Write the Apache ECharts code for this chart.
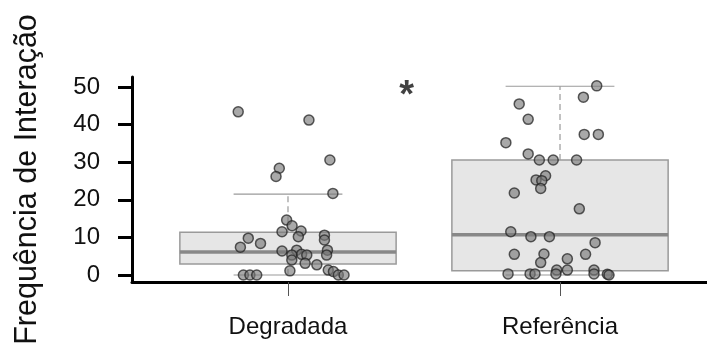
<!DOCTYPE html>
<html>
<head>
<meta charset="utf-8">
<script src="https://cdn.jsdelivr.net/npm/echarts@6/dist/echarts.min.js"></script>
<style>
  html, body { margin: 0; padding: 0; background: #fff; }
  #chart { width: 707px; height: 349px; }
</style>
</head>
<body>
<div id="chart"></div>
<script>
// ---- data ----
const categories = ['Degradada', 'Referência'];
const yTicks = [0, 10, 20, 30, 40, 50];
const yTitle = 'Frequência de Interação';

// boxplot statistics per category
const boxLow = [0, 0];
const boxQ1 = [2.9, 1.1];
const boxMedian = [6.1, 10.7];
const boxQ3 = [11.4, 30.6];
const boxHigh = [21.5, 50.2];

// jittered raw observations (jitter offsets in category units)
const degradadaValues = [43.4, 41.2, 30.6, 28.4, 26.2, 21.7, 14.6, 13.1, 11.5, 11.7, 10.2, 9.8, 8.4, 7.4, 10.6, 9.3, 6.4, 6.6, 5.5, 5.3, 5.3, 6.6, 5.3, 4.0, 3.1, 2.7, 1.1, 0, 0, 0, 1.3, 0.9, 0, 0];
const degradadaJitter = [-0.183, 0.077, 0.154, -0.032, -0.044, 0.165, -0.005, 0.015, -0.022, 0.048, 0.038, -0.146, -0.101, -0.175, 0.134, 0.134, -0.022, 0.032, 0.050, 0.069, 0.014, 0.145, 0.142, 0.014, 0.063, 0.106, 0.007, -0.164, -0.140, -0.115, 0.148, 0.167, 0.185, 0.206];

const referenciaValues = [50.3, 47.3, 45.5, 41.4, 37.4, 37.4, 35.2, 32.2, 30.6, 30.6, 30.6, 26.4, 25.3, 25.1, 23.0, 21.8, 17.6, 11.5, 10.2, 10.2, 8.6, 5.5, 5.6, 3.3, 5.5, 4.3, 1.3, 1.3, 0.3, 0.3, 0.3, 0.3, 1.3, 0.3, 0.2, 0];
const referenciaJitter = [0.135, 0.086, -0.150, -0.117, 0.089, 0.141, -0.199, -0.117, -0.076, -0.025, 0.061, -0.053, -0.088, -0.067, -0.071, -0.168, 0.071, -0.181, -0.107, -0.039, 0.129, -0.168, -0.059, -0.071, 0.094, 0.027, 0.027, -0.012, -0.191, -0.110, -0.092, -0.015, 0.125, 0.125, 0.174, 0.180];

// significance annotation
const sigLabel = ['*'];
const sigPos = [[1.436, 50]];

// ---- build ----
const catPos = categories.map((c, i) => i + 1);
const boxData = categories.map((c, i) => [catPos[i], boxLow[i], boxQ1[i], boxMedian[i], boxQ3[i], boxHigh[i]]);
const pts = [];
degradadaValues.forEach((v, i) => pts.push([catPos[0] + degradadaJitter[i], v]));
referenciaValues.forEach((v, i) => pts.push([catPos[1] + referenciaJitter[i], v]));

const BOX_W = 0.795, CAP_W = 0.40;
const gray = '#9a9a9a';

function renderBox(params, api) {
  const x = api.value(0);
  const lo = api.value(1), q1 = api.value(2), med = api.value(3), q3 = api.value(4), hi = api.value(5);
  const halfW = api.size([BOX_W, 0])[0] / 2;
  const capHalf = api.size([CAP_W, 0])[0] / 2;
  const pLo = api.coord([x, lo]), pQ1 = api.coord([x, q1]), pMed = api.coord([x, med]),
        pQ3 = api.coord([x, q3]), pHi = api.coord([x, hi]);
  const cx = pMed[0];
  return {
    type: 'group',
    children: [
      { type: 'line', shape: { x1: cx, y1: pQ3[1], x2: cx, y2: pHi[1] },
        style: { stroke: gray, lineWidth: 1.2, lineDash: [6, 4] } },
      { type: 'line', shape: { x1: cx, y1: pLo[1], x2: cx, y2: pQ1[1] },
        style: { stroke: gray, lineWidth: 1.2, lineDash: [6, 4] } },
      { type: 'line', shape: { x1: cx - capHalf, y1: pHi[1], x2: cx + capHalf, y2: pHi[1] },
        style: { stroke: gray, lineWidth: 1.2 } },
      { type: 'line', shape: { x1: cx - capHalf, y1: pLo[1], x2: cx + capHalf, y2: pLo[1] },
        style: { stroke: gray, lineWidth: 1.2 } },
      { type: 'rect', shape: { x: cx - halfW, y: pQ3[1], width: 2 * halfW, height: pQ1[1] - pQ3[1] },
        style: { fill: '#e6e6e6', stroke: gray, lineWidth: 1.5 } },
      { type: 'line', shape: { x1: cx - halfW, y1: pMed[1], x2: cx + halfW, y2: pMed[1] },
        style: { stroke: '#888888', lineWidth: 3.5 } }
    ]
  };
}

const chart = echarts.init(document.getElementById('chart'), null, { renderer: 'canvas' });
const FONT = 'Liberation Sans, Arial, sans-serif';
chart.setOption({
  animation: false,
  backgroundColor: '#ffffff',
  grid: { left: 132, right: 0, top: 77, bottom: 67, containLabel: false },
  xAxis: {
    type: 'value',
    min: 0.4265, max: 2.5404,
    splitLine: { show: false },
    axisLine: { show: true, onZero: false, lineStyle: { color: '#000', width: 3 } },
    axisTick: { show: true, customValues: catPos, length: 14, lineStyle: { color: '#555', width: 1 } },
    axisLabel: {
      show: true, customValues: catPos, margin: 33,
      formatter: v => categories[Math.round(v) - 1] || '',
      fontFamily: FONT, fontSize: 24, color: '#111'
    }
  },
  yAxis: {
    type: 'value',
    min: -1.86, max: 52.66,
    name: yTitle,
    nameLocation: 'middle',
    nameGap: 89,
    nameRotate: 90,
    nameTextStyle: { fontFamily: FONT, fontSize: 30.5, color: '#111' },
    splitLine: { show: false },
    axisLine: { show: true, onZero: false, lineStyle: { color: '#000', width: 3 } },
    axisTick: { show: true, customValues: yTicks, length: 14, lineStyle: { color: '#000', width: 3 } },
    axisLabel: { show: true, customValues: yTicks, margin: 32, fontFamily: FONT, fontSize: 24, color: '#111' }
  },
  series: [
    {
      type: 'custom',
      renderItem: renderBox,
      data: boxData,
      encode: { x: 0, y: [1, 2, 3, 4, 5] },
      z: 1,
      silent: true
    },
    {
      type: 'scatter',
      data: pts,
      symbol: 'circle',
      symbolSize: 10,
      itemStyle: { color: 'rgba(120,120,120,0.8)', borderColor: 'rgba(30,30,30,0.9)', borderWidth: 1.5 },
      z: 3,
      silent: true
    },
    {
      type: 'scatter',
      data: sigPos,
      symbolSize: 1,
      itemStyle: { color: 'rgba(0,0,0,0)' },
      label: {
        show: true, position: 'inside', formatter: p => sigLabel[p.dataIndex],
        fontFamily: FONT, fontSize: 38, fontWeight: 'bold', color: '#111', offset: [0, 10]
      },
      z: 4,
      silent: true
    }
  ]
});
</script>
</body>
</html>
